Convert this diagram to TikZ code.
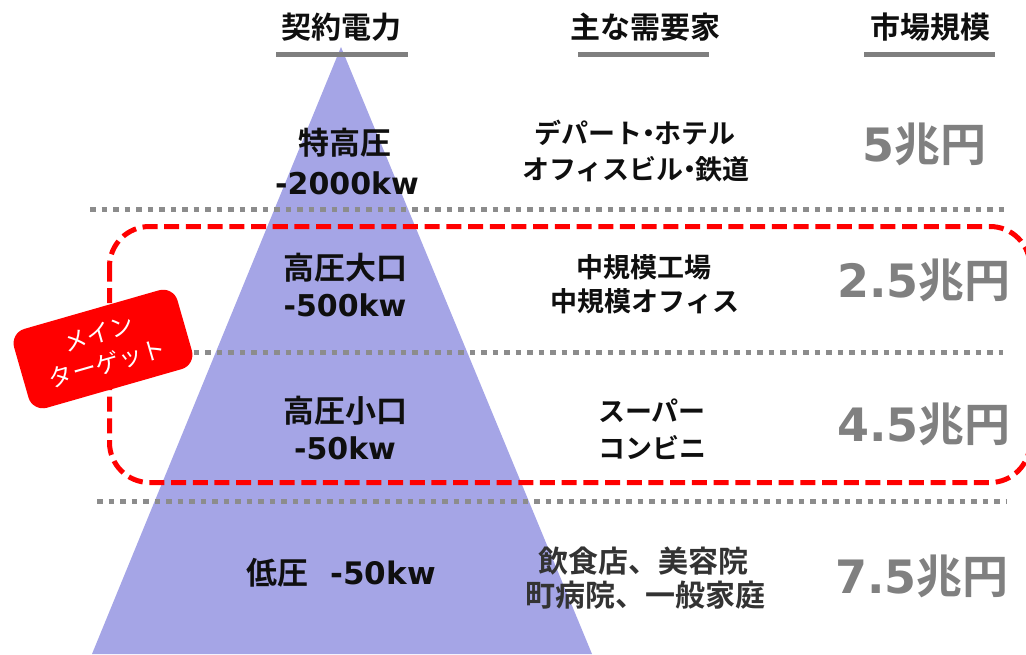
\documentclass[tikz,border=0pt]{standalone}
\usepackage{fontspec}
\newfontfamily\jpb{Noto Sans CJK JP Bold}
\newfontfamily\jpr{Noto Sans CJK JP}
\newfontfamily\dvb{DejaVu Sans Bold}
\definecolor{tri}{RGB}{165,165,230}
\definecolor{sepgray}{RGB}{140,140,140}
\definecolor{ulgray}{RGB}{127,127,127}
\definecolor{mktgray}{RGB}{128,128,128}
\definecolor{txt}{RGB}{15,15,15}
\newcommand{\ndot}{\kern-0.28em・\kern-0.28em}
\tikzset{
  sep/.style={draw=sepgray, line width=5pt, dash pattern=on 5.5pt off 6pt},
  target/.style={draw=red, line width=5pt, dash pattern=on 15pt off 6.7pt, rounded corners=40pt},
  hdr/.style={font=\jpb\fontsize{30}{36}\selectfont, text=txt, anchor=base, inner sep=0pt},
  ulbar/.style={fill=ulgray},
  lvl/.style={font=\jpb\fontsize{31}{36}\selectfont, text=txt, anchor=base, inner sep=0pt},
  kw/.style={font=\dvb\fontsize{30}{36}\selectfont, text=txt, anchor=base, inner sep=0pt},
  dem/.style={font=\jpb\fontsize{27}{30}\selectfont, text=txt, anchor=base, inner sep=0pt},
  demb/.style={font=\jpb\fontsize{30}{34}\selectfont, text=txt!85!white, anchor=base, inner sep=0pt},
  mkt/.style={font=\fontsize{46}{50}\selectfont, text=mktgray, anchor=base, inner sep=0pt},
  tagbox/.style={rotate=16, fill=red, rounded corners=15pt, minimum width=170pt,
     minimum height=82pt, align=center, text=white, font=\jpr\fontsize{24}{31}\selectfont, inner sep=0pt}
}
\begin{document}
\begin{tikzpicture}[x=1pt,y=-1pt]
\useasboundingbox (0,0) rectangle (1026,654);
% pyramid
\fill[tri] (341,47) -- (92,654) -- (592,654) -- cycle;
% header underlines
\fill[ulbar] (276,51.5) rectangle (408,57);
\fill[ulbar] (578,51.5) rectangle (709,57);
\fill[ulbar] (864,51.5) rectangle (995,57);
% headers
\node[hdr] (h1) at (341,38) {契約電力};
\node[hdr] (h2) at (645,38) {主な需要家};
\node[hdr] (h3) at (930,38) {市場規模};
% separators
\draw[sep] (90,209.5) -- (1008,209.5);
\draw[sep] (90,352) -- (1003,352);
\draw[sep] (97,501) -- (1006,501);
% main target frame
\draw[target] (109.5,226.5) rectangle (1030,482.5);
% levels
\node[lvl] (l1a) at (345,154.5) {特高圧};
\node[kw]  (l1b) at (347,194) {-2000kw};
\node[lvl] (l2a) at (345,279.5) {高圧大口};
\node[kw]  (l2b) at (345,316) {-500kw};
\node[lvl] (l3a) at (345,422.5) {高圧小口};
\node[kw]  (l3b) at (345,459) {-50kw};
\node[lvl] (l4) at (341,584) {低圧\hspace{22pt}{\dvb -50kw}};
% demand
\node[dem] (d1a) at (635,143) {デパート\ndot ホテル};
\node[dem] (d1b) at (636,179) {オフィスビル\ndot 鉄道};
\node[dem] (d2a) at (644,277) {中規模工場};
\node[dem] (d2b) at (645,311) {中規模オフィス};
\node[dem] (d3a) at (652,421) {スーパー};
\node[dem] (d3b) at (652,458) {コンビニ};
\node[demb] (d4a) at (643,572) {飲食店、美容院};
\node[demb] (d4b) at (645,606) {町病院、一般家庭};
% market size
\node[mkt] (m1) at (924,161) {{\dvb 5}{\jpb 兆円}};
\node[mkt] (m2) at (924,297) {{\dvb 2.5}{\jpb 兆円}};
\node[mkt] (m3) at (924,441) {{\dvb 4.5}{\jpb 兆円}};
\node[mkt] (m4) at (922,593) {{\dvb 7.5}{\jpb 兆円}};
% tag
\node[tagbox] (tag) at (103,349) {メイン\\ターゲット};
\end{tikzpicture}
\end{document}
